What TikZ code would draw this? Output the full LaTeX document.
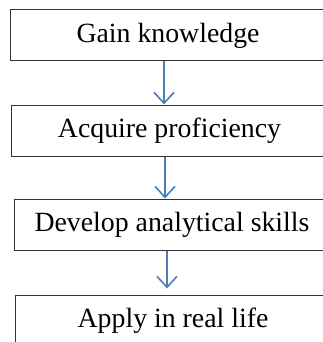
\documentclass[tikz,border=0pt]{standalone}
\usepackage{fontspec}
\setmainfont{Liberation Serif}
\usetikzlibrary{arrows.meta,positioning}

\begin{document}
\begin{tikzpicture}[x=1pt,y=1pt,node distance=43pt,
    stage/.style={draw=black!80,line width=1pt,minimum width=316pt,minimum height=51pt,
      inner sep=0pt,font=\fontsize{27.8}{32}\selectfont},
    flow/.style={draw={rgb,255:red,74;green,126;blue,187},line width=2pt,
      -{Straight Barb[length=11pt,width=20pt,line width=1.6pt]}}]
    \useasboundingbox (0,0) rectangle (323,-342);
    \node[stage] (gk) at (168,-35.5) {Gain knowledge};
    \node[stage,below=of gk,xshift=1.5pt] (ap) {Acquire proficiency};
    \node[stage,below=42pt of ap,xshift=2.5pt] (da) {Develop analytical skills};
    \node[stage,below=44pt of da,xshift=1pt] (ar) {Apply in real life};
    \draw[flow] ([xshift=-4pt]gk.south) -- ([xshift=-4pt]gk.south |- ap.north);
    \draw[flow] ([xshift=-4.5pt]ap.south) -- ([xshift=-4.5pt]ap.south |- da.north);
    \draw[flow,shorten >=6pt] ([xshift=-5pt]da.south) -- ([xshift=-5pt]da.south |- ar.north);
  \end{tikzpicture}
\end{document}
